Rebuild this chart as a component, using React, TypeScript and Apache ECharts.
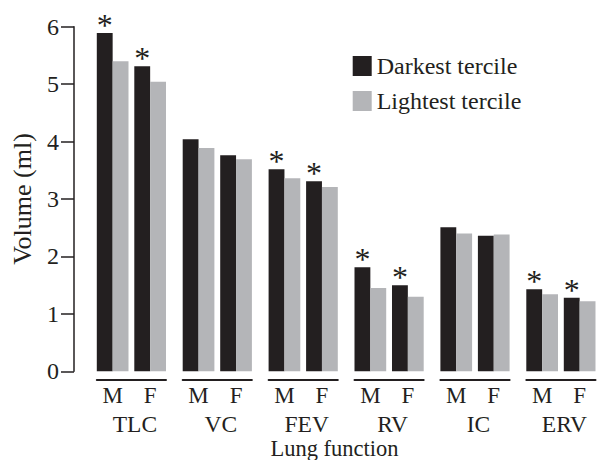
import React, { useEffect, useRef } from "react";
import * as echarts from "echarts";

const groups = ["TLC", "VC", "FEV", "RV", "IC", "ERV"];
const sexes = ["M", "F"];
const darkest = [
  [5.89, 5.31],
  [4.04, 3.76],
  [3.52, 3.31],
  [1.81, 1.5],
  [2.51, 2.36],
  [1.43, 1.28],
];
const lightest = [
  [5.4, 5.04],
  [3.89, 3.69],
  [3.36, 3.21],
  [1.45, 1.3],
  [2.4, 2.38],
  [1.34, 1.22],
];
const significant = [
  [true, true],
  [false, false],
  [true, true],
  [true, true],
  [false, false],
  [true, true],
];
const seriesNames = ["Darkest tercile", "Lightest tercile"];
const yMin = 0;
const yMax = 6;
const yInterval = 1;
const yName = "Volume (ml)";
const xName = "Lung function";

const FONT = '"Liberation Serif", "Times New Roman", serif';
const INK = "#231f20";
const GREY = "#b4b5b8";

export default function App() {
  const ref = useRef<HTMLDivElement>(null);
  useEffect(() => {
    document.body.style.margin = "0";
    if (!ref.current) return;
    const chart = echarts.init(ref.current, null, { renderer: "svg" });

    const FIRST_LEFT = 96.8;
    const STEP = 85.9;
    const GRID_W = 69.2;
    const TOP = 26.7;
    const BOTTOM = 88.7;
    const PAD = 0.4227;

    const grid: any[] = [];
    const xAxis: any[] = [];
    const yAxis: any[] = [];
    const series: any[] = [];

    groups.forEach((g, gi) => {
      grid.push({ left: FIRST_LEFT + gi * STEP, width: GRID_W, top: TOP, bottom: BOTTOM });
      xAxis.push({
        type: "value",
        gridIndex: gi,
        min: -PAD,
        max: 1 + PAD,
        offset: 8,
        name: g,
        nameLocation: "middle",
        nameGap: 25,
        nameTextStyle: { fontFamily: FONT, fontSize: 23.5, color: INK, padding: [0, 0, 0, 7], lineHeight: 22 },
        axisLine: { show: true, onZero: false, lineStyle: { color: INK, width: 2 } },
        axisTick: { show: false },
        splitLine: { show: false },
        axisLabel: {
          customValues: [0, 1],
          formatter: (v: number) => sexes[Math.round(v)] ?? "",
          margin: 5,
          fontFamily: FONT,
          fontSize: 23,
          color: INK,
        },
      });
      yAxis.push(
        gi === 0
          ? {
              type: "value",
              gridIndex: gi,
              min: yMin,
              max: yMax,
              interval: yInterval,
              offset: 22.8,
              name: yName,
              nameLocation: "middle",
              nameGap: 39,
              nameRotate: 90,
              nameTextStyle: { fontFamily: FONT, fontSize: 26, color: INK },
              axisLine: { show: true, onZero: false, lineStyle: { color: INK, width: 1.5 } },
              axisTick: { show: true, length: 13, lineStyle: { color: INK, width: 1.5 } },
              splitLine: { show: false },
              axisLabel: { margin: 15, fontFamily: FONT, fontSize: 24, color: INK },
            }
          : { type: "value", gridIndex: gi, min: yMin, max: yMax, show: false, splitLine: { show: false } }
      );
      series.push({
        type: "bar",
        name: seriesNames[0],
        xAxisIndex: gi,
        yAxisIndex: gi,
        barWidth: 15.85,
        barGap: "0%",
        itemStyle: { color: INK },
        data: darkest[gi].map((v, si) => ({
          value: [si, v],
          label: {
            show: significant[gi][si],
            position: "top",
            distance: -8,
            formatter: "*",
            fontFamily: FONT,
            fontSize: 32,
            color: INK,
          },
        })),
      });
      series.push({
        type: "bar",
        name: seriesNames[1],
        xAxisIndex: gi,
        yAxisIndex: gi,
        barWidth: 15.85,
        barGap: "0%",
        itemStyle: { color: GREY },
        data: lightest[gi].map((v, si) => [si, v]),
      });
    });

    chart.setOption({
      animation: false,
      grid,
      xAxis,
      yAxis,
      series,
      legend: {
        data: seriesNames,
        orient: "vertical",
        left: 352.7,
        top: 54,
        padding: 0,
        itemWidth: 19,
        itemHeight: 20,
        itemGap: 11,
        icon: "rect",
        selectedMode: false,
        textStyle: { fontFamily: FONT, fontSize: 24, color: INK, lineHeight: 20 },
      },
      graphic: [
        {
          type: "text",
          x: 334.5,
          y: 437,
          style: {
            text: xName,
            textAlign: "center",
            textVerticalAlign: "top",
            fontFamily: FONT,
            fontSize: 22.5,
            fill: INK,
          },
        },
      ],
    });
    return () => chart.dispose();
  }, []);
  return <div ref={ref} style={{ width: 598, height: 460 }} />;
}
